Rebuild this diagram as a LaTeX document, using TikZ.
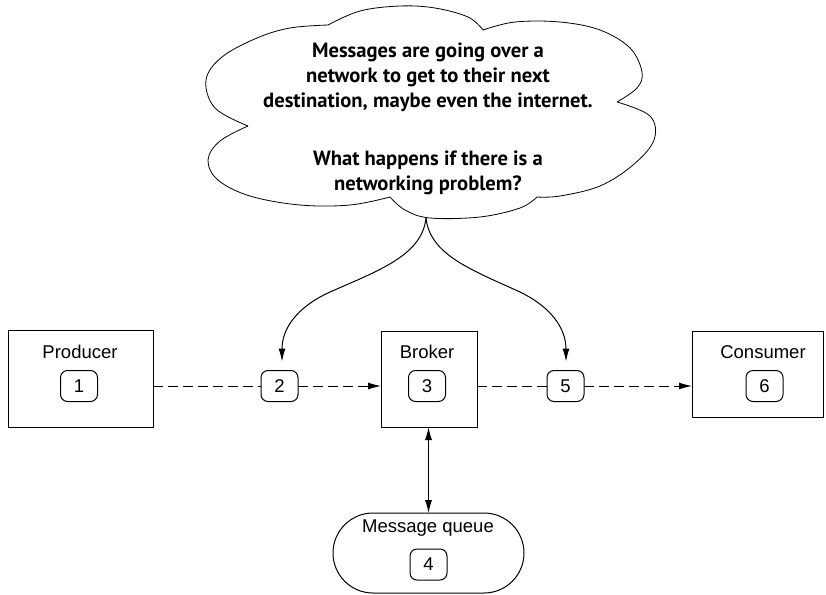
\documentclass[tikz,border=0pt]{standalone}
\usepackage{fontspec}
\setmainfont{Liberation Sans}
\newfontfamily\cloudfont{PT Sans}
\usetikzlibrary{arrows.meta}
\begin{document}
\begin{tikzpicture}[x=1pt,y=-1pt,
 box/.style={draw,line width=1pt,inner sep=0pt,outer sep=0pt},
 numbox/.style={draw,line width=1pt,rounded corners=7pt,minimum width=37pt,minimum height=31pt,inner sep=0pt,outer sep=0pt,font=\fontsize{18.5}{22}\selectfont},
 lbl/.style={font=\fontsize{18.5}{22}\selectfont,inner sep=0pt},
 dashline/.style={line width=1pt,dash pattern=on 10pt off 5pt},
 tip/.style={-{Latex[length=13pt,width=7pt]}},
 conn/.style={line width=1pt},
 cloudline/.style={line width=0.8pt,smooth,tension=0.6}]
\useasboundingbox (0,0) rectangle (826,594);

% boxes
\node[box,minimum width=145pt,minimum height=97pt] (prod) at (80.5,378.5) {};
\node[box,minimum width=96pt,minimum height=96pt] (brok) at (429,379) {};
\node[box,minimum width=131pt,minimum height=86pt] (cons) at (757.5,374) {};
\node[box,rounded corners=40pt,minimum width=191pt,minimum height=80pt] (queue) at (428.5,553) {};

\node[lbl] (lprod) at (80,352) {Producer};
\node[lbl] (lbrok) at (427,352) {Broker};
\node[lbl] (lcons) at (763,352) {Consumer};
\node[lbl] (lqueue) at (428,528) {Message queue};

\node[numbox] (b1) at (79,386) {1};
\node[numbox] (b2) at (279.5,386) {2};
\node[numbox] (b3) at (427,386) {3};
\node[numbox] (b4) at (428.5,564.5) {4};
\node[numbox] (b5) at (565.5,386) {5};
\node[numbox] (b6) at (764.5,386) {6};

% dashed flow
\draw[dashline] (prod.east |- b2.west) -- (b2.west);
\draw[dashline,tip] (b2.east) -- (brok.west |- b2.east);
\draw[dashline] (brok.east |- b5.west) -- (b5.west);
\draw[dashline,tip] (b5.east) -- (cons.west |- b5.east);

% broker <-> queue
\draw[conn,{Latex[length=13pt,width=7pt]}-{Latex[length=13pt,width=7pt]}] (brok.south -| queue.north) -- (queue.north);

% cloud
\draw[cloudline] plot coordinates {(328,25) (290,28) (257,38) (222,57) (206,80) (215,108) (248,126)};
\draw[cloudline] plot coordinates {(248,126) (220,141) (208,160) (218,180) (250,196) (300,205) (350,205) (390,197)};
\draw[cloudline] plot coordinates {(390,197) (405,210) (430,218) (480,217) (520,208) (537,197)};
\draw[cloudline] plot coordinates {(537,197) (560,196) (600,186) (633,165) (654,140) (650,116) (617,102)};
\draw[cloudline] plot coordinates {(617,102) (637,88) (642,72) (630,48) (600,30) (560,22) (515,22) (483,30)};
\draw[cloudline] plot coordinates {(483,30) (468,17) (435,8) (400,6) (360,11) (328,25)};

\node[align=center,inner sep=0pt,font=\cloudfont\bfseries\fontsize{20.6}{25}\selectfont] (cloudtext) at (428,119)
 {Messages are going over a\\network to get to their next\\destination, maybe even the internet.\\[33pt]What happens if there is a\\networking problem?};

\coordinate (cb) at (426,218);
\draw[conn,tip,shorten >=9pt] (cb) .. controls (422,255) and (380,270) .. (330,292) .. controls (295,308) and (282,330) .. (b2.north -| 282,0);
\draw[conn,tip,shorten >=9pt] (cb) .. controls (430,255) and (472,270) .. (520,292) .. controls (553,308) and (566,330) .. (b5.north -| 566,0);
\end{tikzpicture}
\end{document}
